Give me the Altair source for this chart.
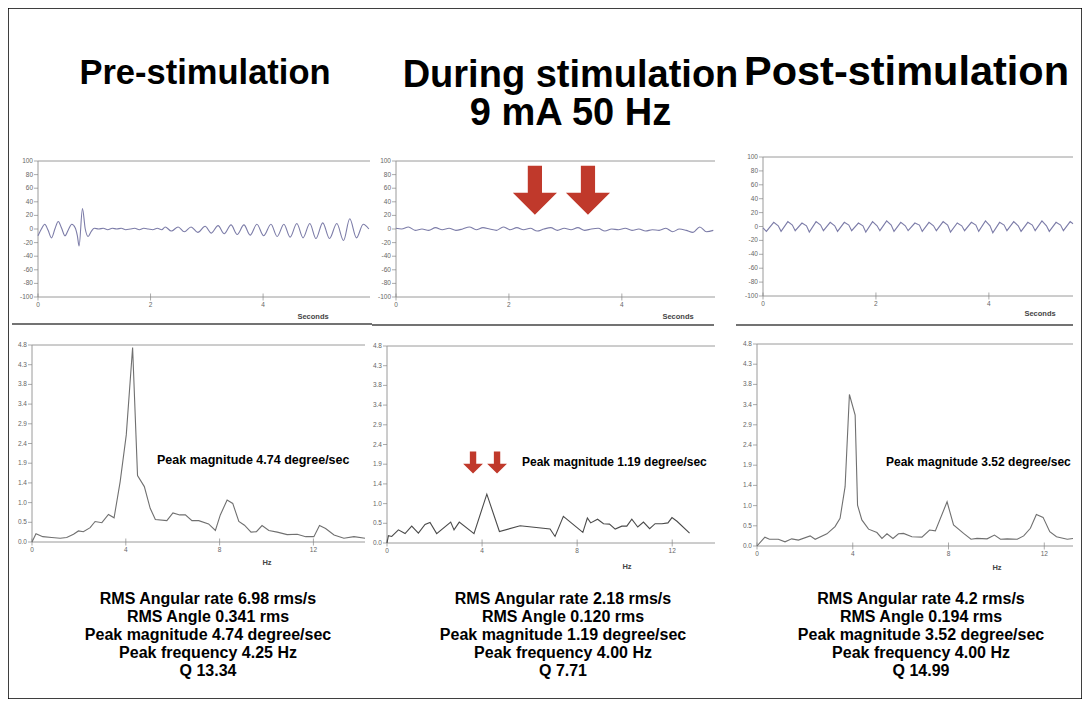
import altair as alt
import pandas as pd

# ---------------- data ----------------
col_titles = ["Pre-stimulation", "During stimulation", "9 mA 50 Hz", "Post-stimulation"]

pre_ts_t = [0.00, 0.06, 0.12, 0.18, 0.24, 0.30, 0.36, 0.42, 0.48, 0.54,
            0.60, 0.66, 0.70, 0.73, 0.79, 0.84, 0.89, 0.95, 1.00,
            1.08, 1.16, 1.24, 1.32, 1.40, 1.48, 1.56, 1.64, 1.72, 1.80,
            1.88, 1.96, 2.04, 2.12, 2.20,
            2.26, 2.37, 2.49, 2.60, 2.72, 2.84, 2.97, 3.08, 3.20, 3.31,
            3.43, 3.54, 3.66, 3.77, 3.89, 4.01, 4.14, 4.25, 4.37, 4.48,
            4.60, 4.71, 4.83, 4.94, 5.06, 5.18, 5.31, 5.43, 5.54, 5.66,
            5.78, 5.88]
pre_ts_v = [-10, 0, 7, -2, -13, 0, 11, 1, -10, -1,
            7, 2, -10, -25, 30, 0, -11, -3, 1,
            0, 1, -1, 1, 0, 1, -1, 0, 1, -1,
            1, 0, -1, 1, -1,
            3, -3, 3, -4, 3, -5, 4, -6, 5, -7,
            6, -8, 6, -9, 7, -10, 7, -11, 7, -12,
            8, -13, 8, -14, 9, -14, 8, -17, 15, -13,
            7, 0]

mid_ts_t = [0.00, 0.10, 0.22, 0.34, 0.46, 0.58, 0.70, 0.82, 0.94, 1.06,
            1.18, 1.30, 1.42, 1.54, 1.66, 1.78, 1.90, 2.02, 2.14, 2.26,
            2.38, 2.50, 2.62, 2.74, 2.86, 2.98, 3.10, 3.22, 3.34, 3.46,
            3.58, 3.70, 3.82, 3.94, 4.06, 4.18, 4.30, 4.42, 4.54, 4.66,
            4.78, 4.90, 5.02, 5.14, 5.26, 5.38, 5.50, 5.62]
mid_ts_v = [1, 0, 3, -2, 0, -2, 2, -1, 1, -2,
            0, 3, -1, 2, 0, -2, 3, -1, 2, -1,
            1, -3, 0, 2, -2, 1, -1, 2, -2, 0,
            1, -3, 0, -1, 1, -2, 0, -3, -1, -2,
            1, -4, 0, -2, -5, 3, -4, -2]

post_ts_t = [0.00, 0.06,
             0.19, 0.27, 0.32, 0.44, 0.52, 0.57, 0.69, 0.77, 0.82,
             0.94, 1.02, 1.07, 1.19, 1.27, 1.32, 1.44, 1.52, 1.57,
             1.69, 1.77, 1.82, 1.94, 2.02, 2.07, 2.19, 2.27, 2.32,
             2.44, 2.52, 2.57, 2.69, 2.77, 2.82, 2.94, 3.02, 3.07,
             3.19, 3.27, 3.32, 3.44, 3.52, 3.57, 3.69, 3.77, 3.82,
             3.94, 4.02, 4.07, 4.19, 4.27, 4.32, 4.44, 4.52, 4.57,
             4.69, 4.77, 4.82, 4.94, 5.02, 5.07, 5.19, 5.27, 5.32,
             5.44, 5.49]
post_ts_v = [-2, -7,
             6, 1, -7, 7, 2, -6, 5, 1, -8,
             7, 2, -6, 6, 1, -7, 6, 2, -6,
             5, 1, -8, 7, 1, -6, 8, 2, -7,
             6, 1, -6, 5, 2, -7, 6, 1, -6,
             7, 2, -8, 5, 1, -6, 6, 2, -7,
             8, 1, -9, 6, 2, -6, 7, 1, -7,
             6, 2, -6, 8, 1, -7, 6, 2, -6,
             7, 4]

pre_sp_f = [0.0, 0.17, 0.46, 0.84, 1.20, 1.48, 1.77, 1.98, 2.19, 2.48,
            2.69, 2.98, 3.26, 3.50, 3.76, 4.02, 4.29, 4.50, 4.79, 5.04,
            5.26, 5.75, 6.01, 6.30, 6.54, 6.82, 7.11, 7.53, 7.82, 8.03,
            8.32, 8.56, 8.82, 9.06, 9.34, 9.57, 9.81, 10.10, 10.46, 10.88,
            11.31, 11.67, 12.02, 12.26, 12.52, 12.88, 13.30, 13.73, 14.2]
pre_sp_m = [0.0, 0.20, 0.13, 0.11, 0.09, 0.11, 0.19, 0.27, 0.25, 0.35,
            0.50, 0.47, 0.67, 0.59, 1.47, 2.61, 4.74, 1.62, 1.35, 0.82,
            0.55, 0.52, 0.71, 0.66, 0.66, 0.52, 0.52, 0.44, 0.28, 0.66,
            1.02, 0.94, 0.50, 0.41, 0.24, 0.25, 0.40, 0.28, 0.24, 0.18,
            0.19, 0.13, 0.13, 0.40, 0.33, 0.17, 0.09, 0.13, 0.09]

mid_sp_f = [0.0, 0.06, 0.20, 0.48, 0.76, 1.04, 1.32, 1.60, 1.81, 2.09,
            2.68, 2.82, 3.04, 3.66, 4.20, 4.73, 5.60, 6.86, 7.07, 7.42,
            7.92, 8.24, 8.43, 8.57, 8.86, 9.11, 9.36, 9.60, 9.88, 10.09,
            10.30, 10.55, 10.79, 11.05, 11.28, 11.57, 11.82, 11.99, 12.20, 12.73]
mid_sp_m = [0.0, 0.18, 0.16, 0.32, 0.23, 0.41, 0.24, 0.45, 0.50, 0.23,
            0.51, 0.32, 0.51, 0.23, 1.19, 0.28, 0.42, 0.34, 0.16, 0.65,
            0.41, 0.26, 0.61, 0.49, 0.58, 0.47, 0.46, 0.34, 0.41, 0.41,
            0.58, 0.39, 0.51, 0.35, 0.47, 0.47, 0.49, 0.62, 0.53, 0.24]

post_sp_f = [0.0, 0.33, 0.52, 0.89, 1.17, 1.45, 1.73, 2.22, 2.43, 2.92,
             3.26, 3.47, 3.68, 3.86, 4.10, 4.20, 4.38, 4.66, 5.01, 5.22,
             5.43, 5.68, 5.91, 6.12, 6.47, 6.89, 7.21, 7.45, 7.94, 8.21,
             8.63, 8.94, 9.19, 9.61, 9.92, 10.17, 10.45, 10.87, 11.14, 11.42,
             11.67, 11.95, 12.23, 12.51, 12.96, 13.2]
post_sp_m = [0.0, 0.21, 0.16, 0.16, 0.10, 0.17, 0.14, 0.24, 0.16, 0.29,
             0.46, 0.66, 1.41, 3.60, 3.11, 0.97, 0.62, 0.40, 0.32, 0.18,
             0.29, 0.18, 0.29, 0.30, 0.22, 0.21, 0.38, 0.36, 1.05, 0.50,
             0.30, 0.16, 0.18, 0.17, 0.26, 0.16, 0.17, 0.16, 0.24, 0.42,
             0.75, 0.68, 0.34, 0.22, 0.16, 0.18]

ts_x_ticks = [0, 2, 4]
ts_y_ticks = [-100, -80, -60, -40, -20, 0, 20, 40, 60, 80, 100]
sp_x_ticks = [0, 4, 8, 12]
sp_y_ticks = [0, 0.48, 0.96, 1.44, 1.92, 2.4, 2.88, 3.36, 3.84, 4.32, 4.8]
ts_x_title = "Seconds"
sp_x_title = "Hz"

peak_labels = ["Peak magnitude 4.74 degree/sec",
               "Peak magnitude 1.19 degree/sec",
               "Peak magnitude 3.52 degree/sec"]

pre_stats = ["RMS Angular rate 6.98 rms/s", "RMS Angle 0.341 rms",
             "Peak magnitude 4.74 degree/sec", "Peak frequency 4.25 Hz", "Q 13.34"]
mid_stats = ["RMS Angular rate 2.18 rms/s", "RMS Angle 0.120 rms",
             "Peak magnitude 1.19 degree/sec", "Peak frequency 4.00 Hz", "Q 7.71"]
post_stats = ["RMS Angular rate 4.2 rms/s", "RMS Angle 0.194 rms",
              "Peak magnitude 3.52 degree/sec", "Peak frequency 4.00 Hz", "Q 14.99"]

big_arrow_t = [2.46, 3.40]
big_arrow_v = [57, 57]
small_arrow_f = [3.62, 4.63]
small_arrow_m = [1.96, 1.96]

# ---------------- layout / style ----------------
W, H = 1074, 691
FONT = "Liberation Sans"
TS_COLOR = "#7c7ca8"
SP_COLOR = "#707070"
RED = "#c0392b"
AX_COLOR = "#9a9a9a"
LAB_COLOR = "#666666"
ARROW = "M-0.29,-1 L0.29,-1 L0.29,0.1 L0.9,0.1 L0,1 L-0.9,0.1 L-0.29,0.1 Z"

one_row = alt.Data(values=[{}])


def panel(df, xf, yf, xdom, xr, yr, xticks, yticks, ylabels, xtitle, ttl_pos, color,
          interp="linear", extras=()):
    xs = alt.Scale(domain=xdom, range=xr, nice=False, zero=False)
    ys = alt.Scale(domain=[yticks[0], yticks[-1]], range=yr, nice=False, zero=False)
    ymin, ymax = yticks[0], yticks[-1]
    X = lambda **kw: alt.X(scale=xs, axis=None, **kw)
    Y = lambda **kw: alt.Y(scale=ys, axis=None, **kw)

    xaxis_line = alt.Chart(one_row).mark_rule(color=AX_COLOR, strokeWidth=1).encode(
        x=X(datum=xdom[0]), x2=alt.X2(datum=xdom[1]), y=Y(datum=ymin))
    top_line = alt.Chart(one_row).mark_rule(color=AX_COLOR, strokeWidth=1).encode(
        x=X(datum=xdom[0]), x2=alt.X2(datum=xdom[1]), y=Y(datum=ymax))
    yaxis_line = alt.Chart(one_row).mark_rule(color=AX_COLOR, strokeWidth=1).encode(
        x=X(datum=xdom[0]), y=Y(datum=ymin), y2=alt.Y2(datum=ymax))

    xt = pd.DataFrame({"tv": xticks, "lab": [str(v) for v in xticks]})
    yt = pd.DataFrame({"tv": yticks, "lab": ylabels})
    x_ticks = alt.Chart(xt).mark_tick(orient="vertical", size=7, thickness=1, color="#888").encode(
        x=X(field="tv", type="quantitative"), y=Y(datum=ymin))
    x_labels = alt.Chart(xt).mark_text(fontSize=6.5, font=FONT, color=LAB_COLOR, baseline="top", dy=5).encode(
        x=X(field="tv", type="quantitative"), y=Y(datum=ymin), text="lab:N")
    y_ticks = alt.Chart(yt).mark_tick(orient="horizontal", size=4, thickness=1, color="#888", xOffset=-2).encode(
        x=X(datum=xdom[0]), y=Y(field="tv", type="quantitative"))
    y_labels = alt.Chart(yt).mark_text(fontSize=6.5, font=FONT, color=LAB_COLOR, align="right",
                                       baseline="middle", dx=-5).encode(
        x=X(datum=xdom[0]), y=Y(field="tv", type="quantitative"), text="lab:N")

    line = alt.Chart(df).mark_line(color=color, strokeWidth=1.1, interpolate=interp).encode(
        x=X(field=xf, type="quantitative"), y=Y(field=yf, type="quantitative"))

    title = alt.Chart(one_row).mark_text(text=xtitle, fontSize=7.5, fontWeight="bold", font=FONT,
                                         color="#444", baseline="middle").encode(
        x=alt.value(ttl_pos[0]), y=alt.value(ttl_pos[1]))

    layers = [top_line, xaxis_line, yaxis_line, x_ticks, y_ticks, x_labels, y_labels, line, title]
    for edf, size in extras:
        layers.append(
            alt.Chart(edf).mark_point(shape=ARROW, filled=True, size=size, color=RED,
                                      opacity=1, strokeWidth=0).encode(
                x=X(field=xf, type="quantitative"), y=Y(field=yf, type="quantitative"))
        )
    return alt.layer(*layers)


ts_labels = [str(v) for v in ts_y_ticks]
sp_labels = [f"{v:.1f}" for v in sp_y_ticks]

pre_ts = panel(pd.DataFrame({"t": pre_ts_t, "v": pre_ts_v}), "t", "v",
               [0, 5.9], [30, 362], [289, 153], ts_x_ticks, ts_y_ticks, ts_labels,
               ts_x_title, (305, 309), TS_COLOR, interp="monotone")
mid_ts = panel(pd.DataFrame({"t": mid_ts_t, "v": mid_ts_v}), "t", "v",
               [0, 5.65], [388, 707], [289, 153], ts_x_ticks, ts_y_ticks, ts_labels,
               ts_x_title, (670, 309), TS_COLOR, interp="monotone",
               extras=[(pd.DataFrame({"t": big_arrow_t, "v": big_arrow_v}), 2401)])
post_ts = panel(pd.DataFrame({"t": post_ts_t, "v": post_ts_v}), "t", "v",
                [0, 5.49], [755, 1065], [288, 149], ts_x_ticks, ts_y_ticks, ts_labels,
                ts_x_title, (1032, 306), TS_COLOR)

pre_sp = panel(pd.DataFrame({"f": pre_sp_f, "m": pre_sp_m}), "f", "m",
               [0, 14.2], [24, 357], [534, 337], sp_x_ticks, sp_y_ticks, sp_labels,
               sp_x_title, (259, 555), SP_COLOR)
mid_sp = panel(pd.DataFrame({"f": mid_sp_f, "m": mid_sp_m}), "f", "m",
               [0, 13.8], [379, 707], [535, 338], sp_x_ticks, sp_y_ticks, sp_labels,
               sp_x_title, (619, 559), "#4a4a4a",
               extras=[(pd.DataFrame({"f": small_arrow_f, "m": small_arrow_m}), 484)])
post_sp = panel(pd.DataFrame({"f": post_sp_f, "m": post_sp_m}), "f", "m",
                [0, 13.2], [749, 1065], [538, 336], sp_x_ticks, sp_y_ticks, sp_labels,
                sp_x_title, (989, 560), SP_COLOR)


def text_block(lines, x, y, size, line_h, align="center", baseline="alphabetic"):
    return alt.Chart(one_row).mark_text(
        text=lines, font=FONT, fontSize=size, fontWeight="bold", color="black",
        align=align, baseline=baseline, lineHeight=line_h,
    ).encode(x=alt.value(x), y=alt.value(y))


titles = [
    text_block([col_titles[0]], 197, 76, 34.5, 36),
    text_block([col_titles[1], col_titles[2]], 562.5, 79, 38, 38),
    text_block([col_titles[3]], 898.5, 77, 41.5, 40),
]
peaks = [
    text_block([peak_labels[0]], 149, 452, 12.5, 14, align="left", baseline="middle"),
    text_block([peak_labels[1]], 514, 454, 12, 14, align="left", baseline="middle"),
    text_block([peak_labels[2]], 878, 454, 12, 14, align="left", baseline="middle"),
]
stats = [
    text_block(pre_stats, 200, 596, 16, 18),
    text_block(mid_stats, 555, 596, 16, 18),
    text_block(post_stats, 913, 596, 16, 18),
]


def divider(x1, x2, y):
    return alt.Chart(one_row).mark_rule(color="#444", strokeWidth=1.5).encode(
        x=alt.value(x1), x2=alt.value(x2), y=alt.value(y))


dividers = [divider(4, 364, 316), divider(364, 706, 317), divider(728, 1065, 317)]

chart = alt.layer(
    pre_ts, mid_ts, post_ts, pre_sp, mid_sp, post_sp, *dividers, *titles, *peaks, *stats
).resolve_scale(
    x="independent", y="independent"
).properties(
    width=W, height=H, padding=0, background="white",
    autosize=alt.AutoSizeParams(type="none"),
).configure_view(stroke="black", strokeWidth=1.5)

chart.save("out.html", embed_options={"renderer": "svg", "actions": False})
